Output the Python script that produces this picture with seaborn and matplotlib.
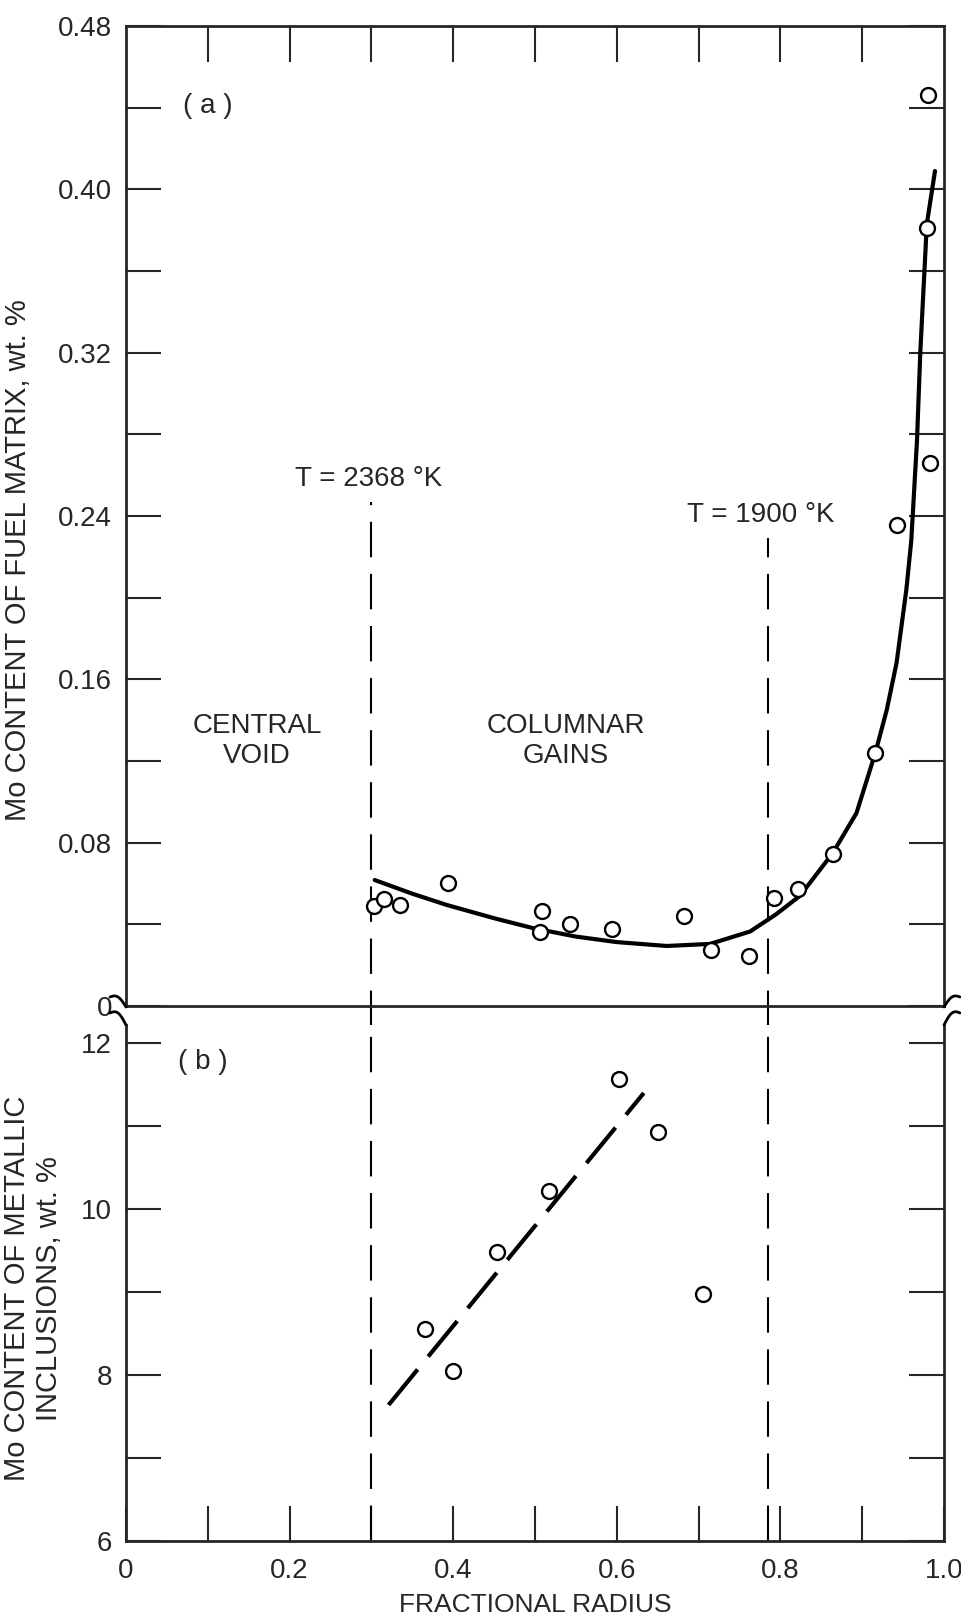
import numpy as np
import pandas as pd
import seaborn as sns
import matplotlib.pyplot as plt
from matplotlib.lines import Line2D

# (a) Mo content of fuel matrix, wt. %
fuel_r = [0.303, 0.315, 0.335, 0.394, 0.509, 0.506, 0.543, 0.594, 0.682, 0.715,
          0.762, 0.792, 0.822, 0.864, 0.916, 0.943, 0.983, 0.979, 0.980]
fuel_mo = [0.049, 0.0524, 0.0495, 0.0602, 0.0465, 0.0362, 0.0402, 0.0377, 0.0441, 0.0274,
           0.0245, 0.0531, 0.0575, 0.0744, 0.1239, 0.2355, 0.266, 0.381, 0.446]

# traced fitted curve for (a)
curve_r = [0.304, 0.350, 0.392, 0.450, 0.497, 0.550, 0.600, 0.661, 0.714, 0.763,
           0.795, 0.824, 0.864, 0.893, 0.916, 0.930, 0.942, 0.954, 0.960, 0.967,
           0.971, 0.979, 0.989]
curve_mo = [0.0617, 0.055, 0.0495, 0.043, 0.0382, 0.034, 0.0313, 0.0294, 0.0304, 0.0365,
            0.045, 0.054, 0.0749, 0.0945, 0.1239, 0.145, 0.168, 0.204, 0.228, 0.277,
            0.320, 0.383, 0.409]

# (b) Mo content of metallic inclusions, wt. %
incl_r = [0.366, 0.400, 0.454, 0.517, 0.603, 0.650, 0.705]
incl_mo = [8.55, 8.055, 9.48, 10.22, 11.565, 10.93, 8.98]
trend_r = [0.321, 0.633]
trend_mo = [7.64, 11.40]

# isotherm positions
void_edge_r = 0.30
t1900_r = 0.785

fuel_yticks = [0, 0.08, 0.16, 0.24, 0.32, 0.40, 0.48]
fuel_yticklabels = ['0', '0.08', '0.16', '0.24', '0.32', '0.40', '0.48']
incl_yticks = [6, 8, 10, 12]
incl_yticklabels = ['6', '8', '10', '12']
xticks = [0, 0.2, 0.4, 0.6, 0.8, 1.0]
xticklabels = ['0', '0.2', '0.4', '0.6', '0.8', '1.0']

df_pts = pd.DataFrame({'r': fuel_r, 'mo': fuel_mo})
df_curve = pd.DataFrame({'r': curve_r, 'mo': curve_mo})
df_incl = pd.DataFrame({'r': incl_r, 'mo': incl_mo})
df_trend = pd.DataFrame({'r': trend_r, 'mo': trend_mo})

sns.set_style('ticks')
plt.rcParams['font.family'] = ['Liberation Sans', 'DejaVu Sans']

TICK_FS = 20
TEXT_FS = 20

fig = plt.figure(figsize=(9.61, 16.23), dpi=100)
L, W = 126 / 961, 818 / 961
ax1 = fig.add_axes([L, 1 - 1006 / 1623, W, 980 / 1623])
ax2 = fig.add_axes([L, 1 - 1541 / 1623, W, 516 / 1623])

# --- panel (a)
sns.lineplot(data=df_curve, x='r', y='mo', ax=ax1, color='black', lw=3,
             sort=False, estimator=None, zorder=2)
sns.scatterplot(data=df_pts, x='r', y='mo', ax=ax1, marker='o', s=115,
                facecolor='white', edgecolor='black', linewidth=1.7, zorder=3)
ax1.axvline(void_edge_r, ymin=-0.02, ymax=0.247 / 0.48, color='black', lw=1.5,
            dashes=(17, 8), clip_on=False)
ax1.axvline(t1900_r, ymin=-0.02, ymax=0.229 / 0.48, color='black', lw=1.5,
            dashes=(17, 8), clip_on=False)

ax1.set_xlim(0, 1)
ax1.set_ylim(0, 0.48)
ax1.set_yticks(fuel_yticks, labels=fuel_yticklabels)
ax1.set_yticks(np.arange(0.04, 0.48, 0.08), minor=True)
ax1.set_xticks(np.arange(0.1, 0.95, 0.1))
ax1.xaxis.set_ticks_position('top')
ax1.tick_params(axis='x', direction='in', length=26, width=1.5,
                labeltop=False, labelbottom=False)
ax1.tick_params(axis='y', which='both', direction='in', length=25, width=1.5,
                left=True, right=True, labelsize=TICK_FS, pad=10)
ax1.set_xlabel('')
ax1.set_ylabel('Mo CONTENT OF FUEL MATRIX, wt. %', fontsize=21)
ax1.yaxis.label.set_va('center')
ax1.yaxis.set_label_coords(-0.132, 0.455)
for s in ax1.spines.values():
    s.set_linewidth(2)

ax1.text(0.10, 0.441, '( a )', fontsize=TEXT_FS, ha='center', va='center')
ax1.text(0.16, 0.130, 'CENTRAL\nVOID', fontsize=TEXT_FS, ha='center', va='center',
         linespacing=1.2)
ax1.text(0.538, 0.130, 'COLUMNAR\nGAINS', fontsize=TEXT_FS, ha='center', va='center',
         linespacing=1.2)
ax1.text(0.296, 0.258, 'T = 2368 °K', fontsize=TEXT_FS, ha='center', va='center')
ax1.text(0.776, 0.2405, 'T = 1900 °K', fontsize=TEXT_FS, ha='center', va='center')

# --- panel (b)
sns.lineplot(data=df_trend, x='r', y='mo', ax=ax2, color='black', lw=3,
             dashes=False, zorder=2).lines[0].set_dashes((11, 4))
sns.scatterplot(data=df_incl, x='r', y='mo', ax=ax2, marker='o', s=115,
                facecolor='white', edgecolor='black', linewidth=1.7, zorder=3)
ax2.plot([void_edge_r, void_edge_r], [6, 12.22], color='black', lw=1.5, dashes=(17, 8))
ax2.plot([t1900_r, t1900_r], [6, 12.22], color='black', lw=1.5, dashes=(17, 8))

ax2.set_xlim(0, 1)
ax2.set_ylim(6, 12.22)
ax2.spines['top'].set_visible(False)
ax2.set_xticks(xticks, labels=xticklabels)
ax2.set_xticks(np.arange(0.1, 1.0, 0.2), minor=True)
ax2.set_yticks(incl_yticks, labels=incl_yticklabels)
ax2.set_yticks([7, 9, 11], minor=True)
ax2.tick_params(axis='x', which='both', direction='in', length=25, width=1.5,
                top=False, labelsize=TICK_FS, pad=12)
ax2.tick_params(axis='y', which='both', direction='in', length=25, width=1.5,
                left=True, right=True, labelsize=TICK_FS, pad=10)
ax2.set_xlabel('FRACTIONAL RADIUS', fontsize=19, labelpad=7)
ax2.set_ylabel('Mo CONTENT OF METALLIC\nINCLUSIONS, wt. %', fontsize=21,
               linespacing=1.2)
ax2.yaxis.label.set_va('center')
ax2.yaxis.set_label_coords(-0.114, 0.49)
for s in ax2.spines.values():
    s.set_linewidth(2)
ax2.text(0.094, 11.77, '( b )', fontsize=TEXT_FS, ha='center', va='center')


# axis-break squiggles between the panels (pixel coordinates)
def squiggle(px, py, dx, dy, flip=1):
    t = np.linspace(0, 1, 30)
    xs = px + flip * (-dx + dx * t)
    ys = py - dy * np.sin(np.pi * t) * 0.5 + dy * t
    fig.add_artist(Line2D(xs / 961, 1 - ys / 1623, color='black', lw=2,
                          transform=fig.transFigure))


for x0, f in [(126, 1), (944, -1)]:
    squiggle(x0, 997, 16, 10, f)
    squiggle(x0, 1013, 16, 12, f)

fig.savefig('out.png', dpi=100)
